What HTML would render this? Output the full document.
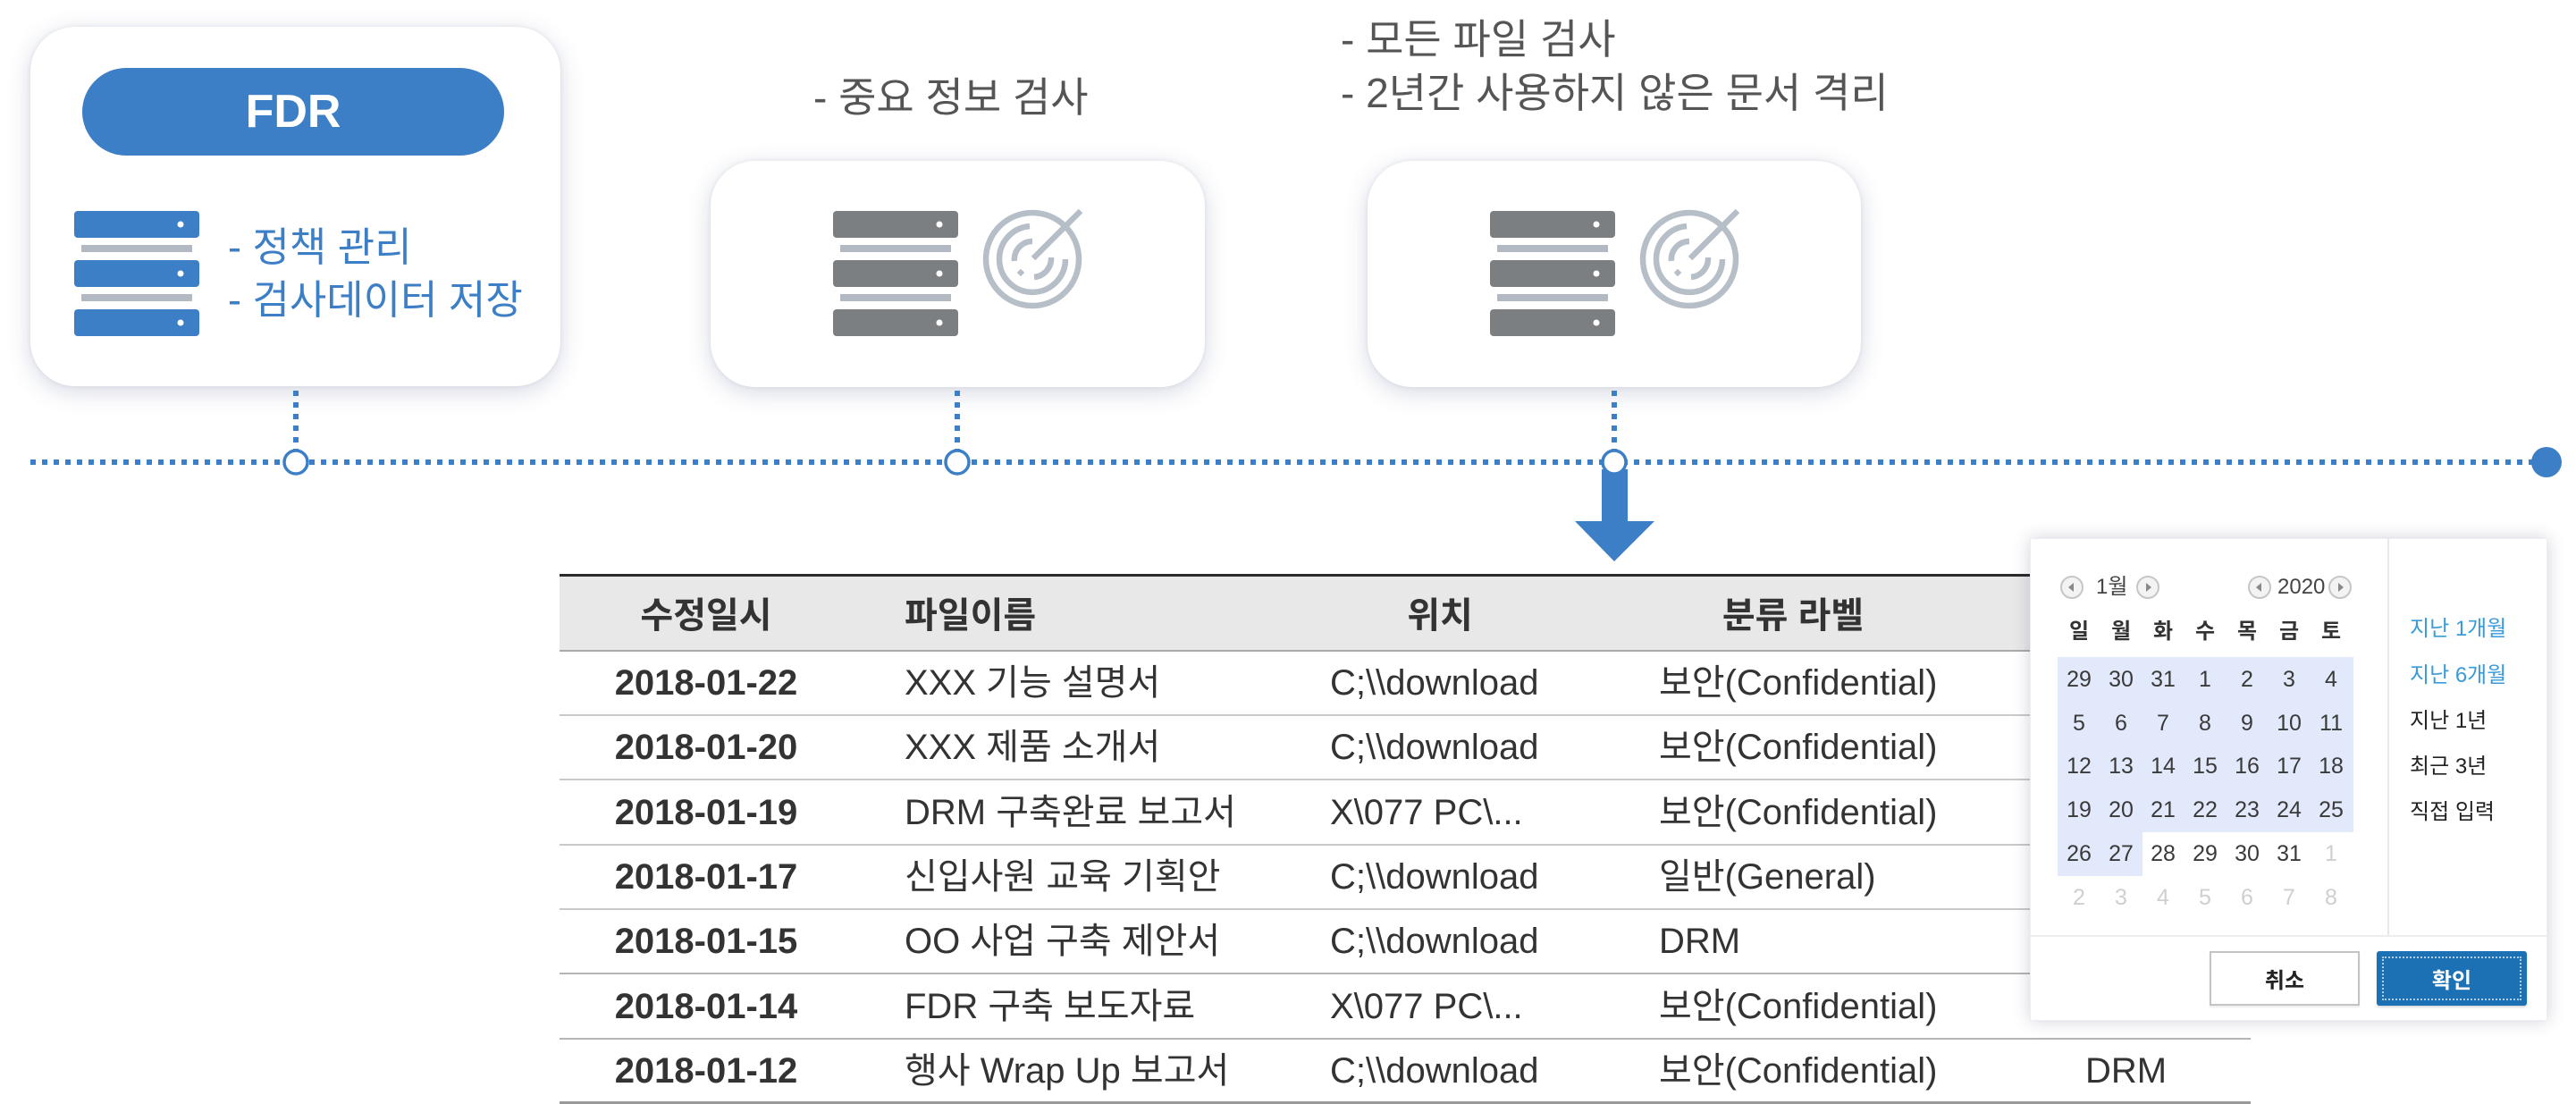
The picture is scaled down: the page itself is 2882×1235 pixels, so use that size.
<!DOCTYPE html>
<html><head><meta charset="utf-8">
<style>
html,body{margin:0;padding:0;background:#fff;}
body{width:2882px;height:1235px;position:relative;overflow:hidden;font-family:"Liberation Sans","Noto Sans CJK KR",sans-serif;}
.a{position:absolute;white-space:nowrap;}
.card{position:absolute;background:#fff;border-radius:50px;box-shadow:0 6px 26px rgba(70,80,130,0.22),0 0 5px rgba(70,80,130,0.10);}
.t44{font-size:45px;line-height:53px;}
.t46{font-size:46px;line-height:54px;}
.th{font-size:40px;line-height:48px;font-weight:bold;color:#333;}
.td{font-size:40px;line-height:48px;color:#333;}
.tdb{font-size:40px;line-height:48px;color:#333;font-weight:bold;width:300px;left:640px;text-align:center;}
.hl{position:absolute;left:626px;width:1892px;height:2px;background:#c9c9c9;}
.c{position:absolute;width:44px;text-align:center;font-size:25px;line-height:30px;color:#3a3a3a;}
.l{color:#cfcfcf;}
.dh{position:absolute;width:44px;text-align:center;font-size:24px;line-height:30px;color:#333;font-weight:bold;top:692px;}
.rl{position:absolute;left:2696px;font-size:24px;line-height:30px;color:#222;white-space:nowrap;}
</style></head><body>

<!-- cards -->
<div class="card" style="left:34px;top:30px;width:593px;height:402px;"></div>
<div class="card" style="left:795px;top:180px;width:553px;height:253px;"></div>
<div class="card" style="left:1530px;top:180px;width:552px;height:253px;"></div>

<!-- FDR pill -->
<div class="a" style="left:92px;top:76px;width:472px;height:98px;border-radius:49px;background:#3d7fc6;display:flex;align-items:center;justify-content:center;color:#fff;font-size:52px;font-weight:bold;">FDR</div>

<!-- card texts -->
<div class="a t44" style="left:255px;top:250px;color:#3d7fc6;">- 정책 관리</div>
<div class="a t44" style="left:255px;top:309px;color:#3d7fc6;">- 검사데이터 저장</div>
<div class="a t46" style="left:910px;top:82px;color:#555;">- 중요 정보 검사</div>
<div class="a t46" style="left:1500px;top:17px;color:#555;">- 모든 파일 검사</div>
<div class="a t46" style="left:1500px;top:77px;color:#555;">- 2년간 사용하지 않은 문서 격리</div>

<svg class="a" style="left:0;top:0;" width="2882" height="1235" viewBox="0 0 2882 1235">
  <!-- blue server -->
  <g>
    <g fill="#3d7fc6">
      <rect x="83" y="236" width="140" height="30" rx="4"/>
      <rect x="83" y="291" width="140" height="30" rx="4"/>
      <rect x="83" y="346" width="140" height="30" rx="4"/>
    </g>
    <g fill="#b3b9c2"><rect x="91" y="274" width="124" height="8"/><rect x="91" y="329" width="124" height="8"/></g>
    <g fill="#fff"><circle cx="202" cy="251" r="3.5"/><circle cx="202" cy="306" r="3.5"/><circle cx="202" cy="361" r="3.5"/></g>
  </g>
  <!-- gray servers -->
  <g transform="translate(849,0)">
    <g fill="#7c7f81">
      <rect x="83" y="236" width="140" height="30" rx="4"/>
      <rect x="83" y="291" width="140" height="30" rx="4"/>
      <rect x="83" y="346" width="140" height="30" rx="4"/>
    </g>
    <g fill="#b3b9c2"><rect x="91" y="274" width="124" height="8"/><rect x="91" y="329" width="124" height="8"/></g>
    <g fill="#fff"><circle cx="202" cy="251" r="3.5"/><circle cx="202" cy="306" r="3.5"/><circle cx="202" cy="361" r="3.5"/></g>
  </g>
  <g transform="translate(1584,0)">
    <g fill="#7c7f81">
      <rect x="83" y="236" width="140" height="30" rx="4"/>
      <rect x="83" y="291" width="140" height="30" rx="4"/>
      <rect x="83" y="346" width="140" height="30" rx="4"/>
    </g>
    <g fill="#b3b9c2"><rect x="91" y="274" width="124" height="8"/><rect x="91" y="329" width="124" height="8"/></g>
    <g fill="#fff"><circle cx="202" cy="251" r="3.5"/><circle cx="202" cy="306" r="3.5"/><circle cx="202" cy="361" r="3.5"/></g>
  </g>
  <!-- radars -->
  <g transform="translate(1155,290)" fill="none" stroke="#b6bec8" stroke-width="6.5">
    <circle r="52"/>
    <path d="M -3,-37 A 37 37 0 1 0 37,0"/>
    <path d="M 0,-20 A 20 20 0 0 0 -20,2"/>
    <path d="M 21,-2 A 21 21 0 0 1 2,20"/>
    <line x1="1" y1="-1" x2="54" y2="-54"/>
    <rect x="-16" y="12" width="6" height="6" transform="rotate(45 -13 15)" fill="#b6bec8" stroke="none"/>
  </g>
  <g transform="translate(1890,290)" fill="none" stroke="#b6bec8" stroke-width="6.5">
    <circle r="52"/>
    <path d="M -3,-37 A 37 37 0 1 0 37,0"/>
    <path d="M 0,-20 A 20 20 0 0 0 -20,2"/>
    <path d="M 21,-2 A 21 21 0 0 1 2,20"/>
    <line x1="1" y1="-1" x2="54" y2="-54"/>
    <rect x="-16" y="12" width="6" height="6" transform="rotate(45 -13 15)" fill="#b6bec8" stroke="none"/>
  </g>
  <!-- timeline -->
  <g stroke="#3d7fc6" stroke-width="6" stroke-dasharray="6 7" fill="none">
    <line x1="34" y1="517" x2="2834" y2="517"/>
    <line x1="331" y1="437" x2="331" y2="503"/>
    <line x1="1071" y1="437" x2="1071" y2="503"/>
    <line x1="1806" y1="437" x2="1806" y2="503"/>
  </g>
  <rect x="1792" y="525" width="29" height="60" fill="#3d7fc6"/>
  <polygon points="1762,583 1851,583 1806,628" fill="#3d7fc6"/>
  <g fill="#fff" stroke="#3d7fc6" stroke-width="3.5">
    <circle cx="331" cy="517" r="13"/>
    <circle cx="1071" cy="517" r="13"/>
    <circle cx="1806" cy="517" r="13"/>
  </g>
  <circle cx="2849" cy="517" r="17" fill="#3d7fc6"/>
</svg>

<!-- table -->
<div class="a" style="left:626px;top:642px;width:1892px;height:86px;background:#e8e8e8;"></div>
<div class="a" style="left:626px;top:642px;width:1892px;height:3px;background:#2b2b2b;"></div>
<div class="hl" style="top:727px;background:#aaa;"></div>
<div class="hl" style="top:799px;"></div>
<div class="hl" style="top:871px;"></div>
<div class="hl" style="top:944px;"></div>
<div class="hl" style="top:1016px;"></div>
<div class="hl" style="top:1088px;background:#b5b5b5;"></div>
<div class="hl" style="top:1161px;background:#b5b5b5;"></div>
<div class="hl" style="top:1232px;background:#999;height:3px;"></div>

<div class="a th" style="left:640px;width:300px;text-align:center;top:665px;">수정일시</div>
<div class="a th" style="left:1012px;top:665px;">파일이름</div>
<div class="a th" style="left:1511px;width:200px;text-align:center;top:665px;">위치</div>
<div class="a th" style="left:1906px;width:200px;text-align:center;top:665px;">분류 라벨</div>

<div class="a tdb" style="top:740px;">2018-01-22</div>
<div class="a td" style="left:1012px;top:740px;">XXX 기능 설명서</div>
<div class="a td" style="left:1488px;top:740px;">C;\\download</div>
<div class="a td" style="left:1856px;top:740px;">보안(Confidential)</div>

<div class="a tdb" style="top:812px;">2018-01-20</div>
<div class="a td" style="left:1012px;top:812px;">XXX 제품 소개서</div>
<div class="a td" style="left:1488px;top:812px;">C;\\download</div>
<div class="a td" style="left:1856px;top:812px;">보안(Confidential)</div>

<div class="a tdb" style="top:885px;">2018-01-19</div>
<div class="a td" style="left:1012px;top:885px;">DRM 구축완료 보고서</div>
<div class="a td" style="left:1488px;top:885px;">X\077 PC\...</div>
<div class="a td" style="left:1856px;top:885px;">보안(Confidential)</div>

<div class="a tdb" style="top:957px;">2018-01-17</div>
<div class="a td" style="left:1012px;top:957px;">신입사원 교육 기획안</div>
<div class="a td" style="left:1488px;top:957px;">C;\\download</div>
<div class="a td" style="left:1856px;top:957px;">일반(General)</div>

<div class="a tdb" style="top:1029px;">2018-01-15</div>
<div class="a td" style="left:1012px;top:1029px;">OO 사업 구축 제안서</div>
<div class="a td" style="left:1488px;top:1029px;">C;\\download</div>
<div class="a td" style="left:1856px;top:1029px;">DRM</div>

<div class="a tdb" style="top:1102px;">2018-01-14</div>
<div class="a td" style="left:1012px;top:1102px;">FDR 구축 보도자료</div>
<div class="a td" style="left:1488px;top:1102px;">X\077 PC\...</div>
<div class="a td" style="left:1856px;top:1102px;">보안(Confidential)</div>

<div class="a tdb" style="top:1174px;">2018-01-12</div>
<div class="a td" style="left:1012px;top:1174px;">행사 Wrap Up 보고서</div>
<div class="a td" style="left:1488px;top:1174px;">C;\\download</div>
<div class="a td" style="left:1856px;top:1174px;">보안(Confidential)</div>
<div class="a td" style="left:2333px;top:1174px;">DRM</div>

<!-- popup -->
<div class="a" style="left:2271px;top:602px;width:579px;height:540px;background:#fff;box-shadow:0 0 18px rgba(40,50,80,0.22);border:1px solid #eeeef2;box-sizing:border-box;"></div>
<svg class="a" style="left:0;top:0;" width="2882" height="1235" viewBox="0 0 2882 1235">
  <rect x="2302" y="735" width="331" height="196" fill="#e1e9fb"/>
  <rect x="2302" y="931" width="95" height="49" fill="#e1e9fb"/>
  <line x1="2672" y1="602" x2="2672" y2="1047" stroke="#e8e8e8" stroke-width="2"/>
  <line x1="2271" y1="1047" x2="2850" y2="1047" stroke="#ededed" stroke-width="2"/>
  <g fill="#f3f3f3" stroke="#c6c6c6" stroke-width="2">
    <circle cx="2318" cy="657" r="12"/>
    <circle cx="2403" cy="657" r="12"/>
    <circle cx="2528" cy="657" r="12"/>
    <circle cx="2618" cy="657" r="12"/>
  </g>
  <g fill="#888">
    <polygon points="2314,657 2320,652 2320,662"/>
    <polygon points="2407,657 2401,652 2401,662"/>
    <polygon points="2524,657 2530,652 2530,662"/>
    <polygon points="2622,657 2616,652 2616,662"/>
  </g>
</svg>

<div class="a" style="left:2345px;top:642px;font-size:24px;line-height:30px;color:#444;">1월</div>
<div class="a" style="left:2548px;top:642px;font-size:24px;line-height:30px;color:#444;">2020</div>

<div class="dh" style="left:2304px;">일</div>
<div class="dh" style="left:2351px;">월</div>
<div class="dh" style="left:2398px;">화</div>
<div class="dh" style="left:2445px;">수</div>
<div class="dh" style="left:2492px;">목</div>
<div class="dh" style="left:2539px;">금</div>
<div class="dh" style="left:2586px;">토</div>

<div class="c" style="left:2304px;top:745px;">29</div>
<div class="c" style="left:2351px;top:745px;">30</div>
<div class="c" style="left:2398px;top:745px;">31</div>
<div class="c" style="left:2445px;top:745px;">1</div>
<div class="c" style="left:2492px;top:745px;">2</div>
<div class="c" style="left:2539px;top:745px;">3</div>
<div class="c" style="left:2586px;top:745px;">4</div>

<div class="c" style="left:2304px;top:794px;">5</div>
<div class="c" style="left:2351px;top:794px;">6</div>
<div class="c" style="left:2398px;top:794px;">7</div>
<div class="c" style="left:2445px;top:794px;">8</div>
<div class="c" style="left:2492px;top:794px;">9</div>
<div class="c" style="left:2539px;top:794px;">10</div>
<div class="c" style="left:2586px;top:794px;">11</div>

<div class="c" style="left:2304px;top:842px;">12</div>
<div class="c" style="left:2351px;top:842px;">13</div>
<div class="c" style="left:2398px;top:842px;">14</div>
<div class="c" style="left:2445px;top:842px;">15</div>
<div class="c" style="left:2492px;top:842px;">16</div>
<div class="c" style="left:2539px;top:842px;">17</div>
<div class="c" style="left:2586px;top:842px;">18</div>

<div class="c" style="left:2304px;top:891px;">19</div>
<div class="c" style="left:2351px;top:891px;">20</div>
<div class="c" style="left:2398px;top:891px;">21</div>
<div class="c" style="left:2445px;top:891px;">22</div>
<div class="c" style="left:2492px;top:891px;">23</div>
<div class="c" style="left:2539px;top:891px;">24</div>
<div class="c" style="left:2586px;top:891px;">25</div>

<div class="c" style="left:2304px;top:940px;">26</div>
<div class="c" style="left:2351px;top:940px;">27</div>
<div class="c" style="left:2398px;top:940px;">28</div>
<div class="c" style="left:2445px;top:940px;">29</div>
<div class="c" style="left:2492px;top:940px;">30</div>
<div class="c" style="left:2539px;top:940px;">31</div>
<div class="c l" style="left:2586px;top:940px;">1</div>

<div class="c l" style="left:2304px;top:989px;">2</div>
<div class="c l" style="left:2351px;top:989px;">3</div>
<div class="c l" style="left:2398px;top:989px;">4</div>
<div class="c l" style="left:2445px;top:989px;">5</div>
<div class="c l" style="left:2492px;top:989px;">6</div>
<div class="c l" style="left:2539px;top:989px;">7</div>
<div class="c l" style="left:2586px;top:989px;">8</div>

<div class="rl" style="top:689px;color:#3a9bd8;">지난 1개월</div>
<div class="rl" style="top:741px;color:#3a9bd8;">지난 6개월</div>
<div class="rl" style="top:792px;">지난 1년</div>
<div class="rl" style="top:843px;">최근 3년</div>
<div class="rl" style="top:894px;">직접 입력</div>

<div class="a" style="left:2472px;top:1064px;width:164px;height:57px;border:2px solid #c4c4c4;background:#fff;box-shadow:0 2px 2px rgba(0,0,0,0.08);display:flex;align-items:center;justify-content:center;font-size:24px;font-weight:bold;color:#222;">취소</div>
<div class="a" style="left:2659px;top:1064px;width:168px;height:61px;background:#1c71b4;border-radius:3px;box-shadow:0 2px 2px rgba(0,0,0,0.15);"></div>
<div class="a" style="left:2665px;top:1070px;width:152px;height:45px;border:2px dotted rgba(255,255,255,0.65);display:flex;align-items:center;justify-content:center;font-size:24px;font-weight:bold;color:#fff;">확인</div>

</body></html>
